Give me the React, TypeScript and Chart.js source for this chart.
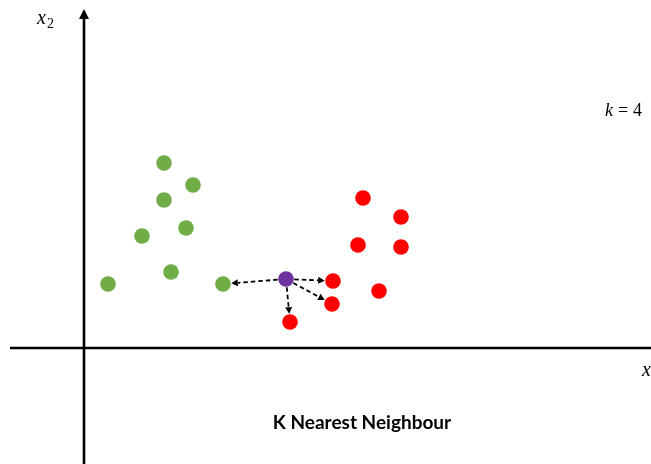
import React, { useEffect, useRef } from "react";
import { Chart, registerables } from "chart.js";

Chart.register(...registerables);

// Axis ranges (data units)
const xRange = [-8.4, 56.7];
const yRange = [-11.6, 34.8];

// Class A (green)
const greenX = [8.0, 10.9, 8.0, 10.2, 5.8, 8.7, 2.4, 13.9];
const greenY = [18.5, 16.3, 14.8, 12.0, 11.2, 7.6, 6.4, 6.4];

// Class B (red)
const redX = [27.9, 31.7, 27.4, 31.7, 24.9, 29.5, 24.8, 20.6];
const redY = [15.0, 13.1, 10.3, 10.1, 6.7, 5.7, 4.4, 2.6];

// Query point (purple)
const queryX = [20.2];
const queryY = [6.9];

// Nearest neighbours (k = 4)
const nnX = [13.9, 24.9, 24.8, 20.6];
const nnY = [6.4, 6.7, 4.4, 2.6];

const title = "K Nearest Neighbour";

const toPts = (xs: number[], ys: number[]) => xs.map((x, i) => ({ x, y: ys[i] }));

const POINT_R = 7.8;

const overlayPlugin = {
  id: "knnOverlay",
  beforeDatasetsDraw(chart: any) {
    const ctx = chart.ctx as CanvasRenderingContext2D;
    const xs = chart.scales.x;
    const ys = chart.scales.y;
    const ox = xs.getPixelForValue(0);
    const oy = ys.getPixelForValue(0);
    ctx.save();
    ctx.strokeStyle = "#000";
    ctx.fillStyle = "#000";
    ctx.lineWidth = 2.6;
    // horizontal axis
    ctx.beginPath();
    ctx.moveTo(10, oy);
    ctx.lineTo(chart.width, oy);
    ctx.stroke();
    // vertical axis
    ctx.beginPath();
    ctx.moveTo(ox, chart.height);
    ctx.lineTo(ox, 17);
    ctx.stroke();
    ctx.beginPath();
    ctx.moveTo(ox, 9);
    ctx.lineTo(ox - 5, 19);
    ctx.lineTo(ox + 5, 19);
    ctx.closePath();
    ctx.fill();

    // arrows from query to neighbours
    const qx = xs.getPixelForValue(queryX[0]);
    const qy = ys.getPixelForValue(queryY[0]);
    ctx.lineWidth = 1.8;
    for (let i = 0; i < nnX.length; i++) {
      const tx = xs.getPixelForValue(nnX[i]);
      const ty = ys.getPixelForValue(nnY[i]);
      const dx = tx - qx;
      const dy = ty - qy;
      const len = Math.hypot(dx, dy);
      const ux = dx / len;
      const uy = dy / len;
      const sx = qx + ux * (POINT_R + 0.5);
      const sy = qy + uy * (POINT_R + 0.5);
      const ex = tx - ux * (POINT_R + 0.5);
      const ey = ty - uy * (POINT_R + 0.5);
      const headLen = 6.5;
      const headW = 3.5;
      const bx = ex - ux * headLen;
      const by = ey - uy * headLen;
      ctx.setLineDash([4.5, 3]);
      ctx.beginPath();
      ctx.moveTo(sx, sy);
      ctx.lineTo(bx, by);
      ctx.stroke();
      ctx.setLineDash([]);
      ctx.beginPath();
      ctx.moveTo(ex, ey);
      ctx.lineTo(bx - uy * headW, by + ux * headW);
      ctx.lineTo(bx + uy * headW, by - ux * headW);
      ctx.closePath();
      ctx.fill();
    }
    ctx.restore();
  },
  afterDatasetsDraw(chart: any) {
    const ctx = chart.ctx as CanvasRenderingContext2D;
    ctx.save();
    ctx.fillStyle = "#000";
    ctx.textBaseline = "alphabetic";
    // x2 label
    ctx.textAlign = "left";
    ctx.font = "italic 20px 'Liberation Serif'";
    ctx.fillText("x", 37, 24);
    ctx.font = "14px 'Liberation Serif'";
    ctx.fillText("2", 47, 28);
    // k = 4
    ctx.font = "italic 18px 'Liberation Serif'";
    ctx.fillText("k", 605, 116);
    ctx.font = "18px 'Liberation Serif'";
    ctx.fillText("=", 618, 116);
    ctx.fillText("4", 633, 116);
    // x1 label (cut at edge)
    ctx.font = "italic 20px 'Liberation Serif'";
    ctx.fillText("x", 642, 376);
    // title
    ctx.font = "bold 19px Lato";
    ctx.textAlign = "center";
    ctx.fillText(title, 362, 429);
    ctx.restore();
  },
};

export default function App() {
  const ref = useRef<HTMLCanvasElement | null>(null);
  useEffect(() => {
    if (!ref.current) return;
    const chart = new Chart(ref.current, {
      type: "scatter",
      data: {
        datasets: [
          {
            label: "Class A",
            data: toPts(greenX, greenY),
            backgroundColor: "#70AD47",
            borderColor: "#70AD47",
            pointRadius: POINT_R,
            pointBorderWidth: 0,
          },
          {
            label: "Class B",
            data: toPts(redX, redY),
            backgroundColor: "#FF0000",
            borderColor: "#FF0000",
            pointRadius: POINT_R,
            pointBorderWidth: 0,
          },
          {
            label: "Query",
            data: toPts(queryX, queryY),
            backgroundColor: "#7030A0",
            borderColor: "#7030A0",
            pointRadius: POINT_R,
            pointBorderWidth: 0,
          },
        ],
      },
      options: {
        animation: false,
        responsive: true,
        maintainAspectRatio: false,
        layout: { padding: 0, autoPadding: false },
        plugins: { legend: { display: false }, tooltip: { enabled: false }, title: { display: false } },
        scales: {
          x: { type: "linear", min: xRange[0], max: xRange[1], display: false },
          y: { type: "linear", min: yRange[0], max: yRange[1], display: false },
        },
      },
      plugins: [overlayPlugin],
    });
    return () => chart.destroy();
  }, []);
  return (
    <div style={{ position: "fixed", left: 0, top: 0, width: 651, height: 464, background: "#fff" }}>
      <canvas ref={ref} />
    </div>
  );
}
